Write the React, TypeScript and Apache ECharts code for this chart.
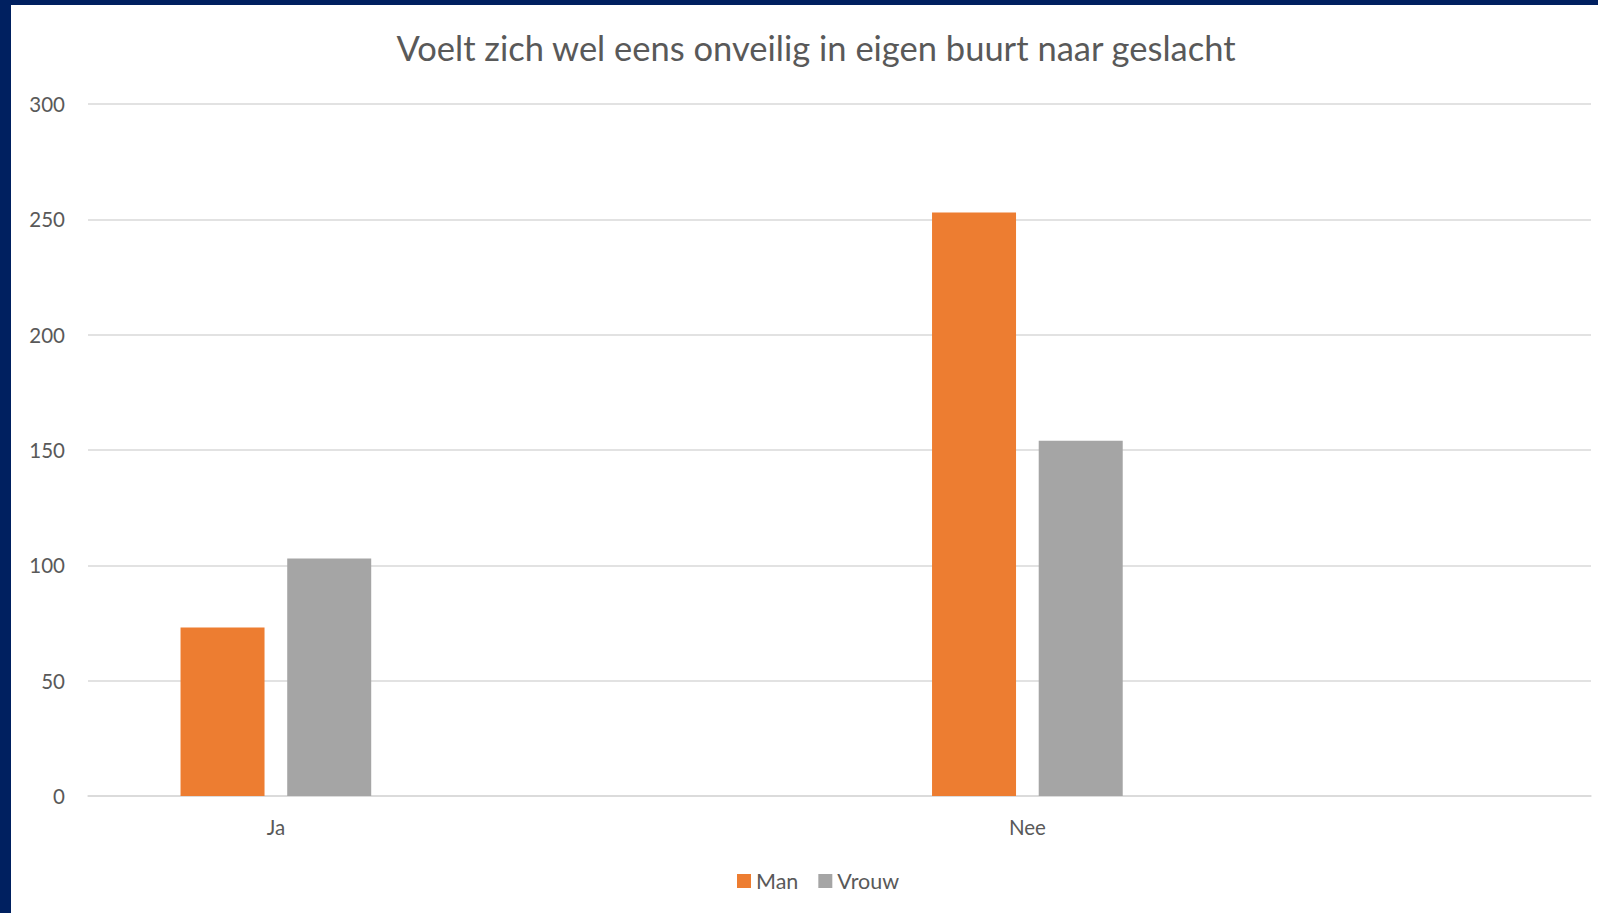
import React, { useEffect, useRef } from "react";
import * as echarts from "echarts";

const title = "Voelt zich wel eens onveilig in eigen buurt naar geslacht";
const categories = ["Ja", "", "Nee", ""];
const manValues = [73, null, 253, null];
const vrouwValues = [103, null, 154, null];
const seriesNames = ["Man", "Vrouw"];
const yTicks = { min: 0, max: 300, interval: 50 };

const FONT = "Lato, 'Open Sans', sans-serif";

export default function App() {
  const ref = useRef<HTMLDivElement>(null);
  useEffect(() => {
    document.body.style.margin = "0";
    const chart = echarts.init(ref.current!, null, { renderer: "svg" });
    chart.setOption({
      animation: false,
      backgroundColor: "#ffffff",
      textStyle: { fontFamily: FONT },
      graphic: [
        { type: "rect", shape: { x: 0, y: 0, width: 11, height: 913 }, style: { fill: "#002060" }, silent: true },
        { type: "rect", shape: { x: 0, y: 0, width: 1598, height: 5 }, style: { fill: "#002060" }, silent: true },
      ],
      title: {
        text: title,
        left: 811,
        textAlign: "center",
        top: 25,
        textStyle: { fontFamily: FONT, fontSize: 34.5, fontWeight: "normal", color: "#595959" },
      },
      legend: {
        data: seriesNames,
        left: 732,
        top: 865,
        itemWidth: 14,
        itemHeight: 14,
        itemGap: 20,
        icon: "rect",
        textStyle: { fontFamily: FONT, fontSize: 21.5, color: "#595959" },
      },
      grid: { left: 88, right: 7, top: 104, bottom: 117, containLabel: false },
      xAxis: {
        type: "category",
        data: categories,
        axisLine: { lineStyle: { color: "#D9D9D9", width: 1.5 } },
        axisTick: { show: false },
        axisLabel: { fontFamily: FONT, fontSize: 20.5, color: "#595959", margin: 20 },
      },
      yAxis: {
        type: "value",
        min: yTicks.min,
        max: yTicks.max,
        interval: yTicks.interval,
        axisLine: { show: false },
        axisTick: { show: false },
        splitLine: { lineStyle: { color: "#D9D9D9", width: 1.5 } },
        axisLabel: { fontFamily: FONT, fontSize: 20.5, color: "#595959", margin: 23 },
      },
      series: [
        {
          name: seriesNames[0],
          type: "bar",
          data: manValues,
          barWidth: 84,
          barGap: "27%",
          itemStyle: { color: "#ED7D31" },
        },
        {
          name: seriesNames[1],
          type: "bar",
          data: vrouwValues,
          barWidth: 84,
          barGap: "27%",
          itemStyle: { color: "#A5A5A5" },
        },
      ],
    });
    return () => chart.dispose();
  }, []);
  return (
    <div
      ref={ref}
      style={{ position: "fixed", left: 0, top: 0, width: 1598, height: 913 }}
    />
  );
}
